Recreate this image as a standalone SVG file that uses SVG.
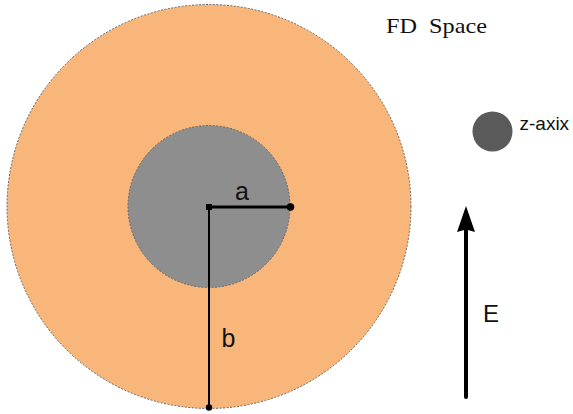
<svg xmlns="http://www.w3.org/2000/svg" width="573" height="414" viewBox="0 0 573 414">
<style>
.lbl{font-family:"Liberation Sans",Arial,sans-serif;fill:#111}
.ttl{font-family:"Liberation Serif","Times New Roman",serif;fill:#111;white-space:pre}
.edge{stroke:#666;stroke-width:1;stroke-dasharray:2 1.5}
</style>
<rect width="573" height="414" fill="#ffffff"/>
<g id="outer">
<circle cx="209" cy="206.5" r="202" fill="#F8B67B" class="edge"/>
</g>
<g id="inner">
<circle cx="209" cy="206.5" r="81" fill="#8E8E8E" class="edge"/>
</g>
<g id="connectors">
<line x1="209" y1="207" x2="290.5" y2="207" stroke="#000" stroke-width="3"/>
<line x1="209" y1="207" x2="209" y2="408" stroke="#000" stroke-width="2"/>
<rect x="206" y="204" width="6" height="6" fill="#000"/>
<circle cx="290.5" cy="207" r="3.8" fill="#000"/>
<circle cx="209" cy="407.5" r="3.2" fill="#000"/>
<line x1="466" y1="397" x2="466" y2="228" stroke="#000" stroke-width="4" stroke-linecap="round"/>
<polygon points="466,206 475,232 466,229.5 457,232" fill="#000"/>
</g>
<g id="labels">
<text class="lbl" x="235" y="200" font-size="25">a</text>
<text class="lbl" x="221.5" y="347" font-size="25">b</text>
<text class="lbl" x="483" y="322" font-size="24">E</text>
</g>
<g id="zaxis">
<circle cx="492.5" cy="131.5" r="20" fill="#5A5A5A"/>
<text class="lbl" x="519.5" y="130" font-size="19">z-axix</text>
</g>
<g id="title">
<text class="ttl" x="386" y="33" font-size="21" textLength="101" lengthAdjust="spacingAndGlyphs" xml:space="preserve">FD  Space</text>
</g>
</svg>
